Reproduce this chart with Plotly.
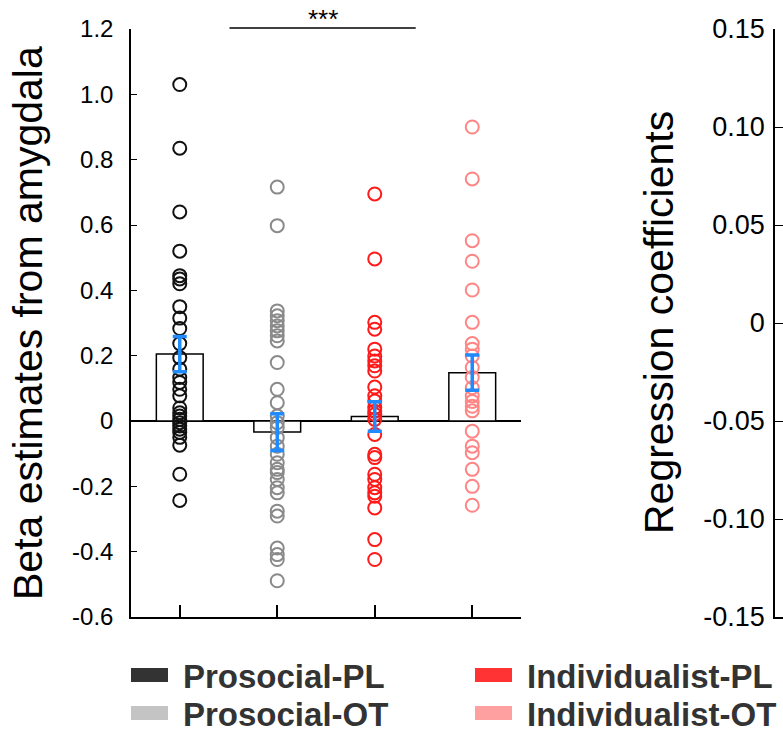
import plotly.graph_objects as go

W, H = 783, 734

groups = ["Prosocial-PL", "Prosocial-OT", "Individualist-PL", "Individualist-OT"]
point_colors = ["#111111", "#8a8a8a", "#ff1a1a", "#ff8585"]
swatch_colors = ["#333333", "#c4c4c4", "#ff3333", "#ffa0a0"]

bar_means = [0.205, -0.034, 0.014, 0.148]
bar_sem = [0.054, 0.056, 0.045, 0.054]

pros_pl = [1.03, 0.835, 0.64, 0.52, 0.445, 0.435, 0.42, 0.35, 0.315, 0.283, 0.237,
           0.194, 0.159, 0.133, 0.118, 0.097, 0.077, 0.04, 0.025, 0.015, 0.005,
           -0.005, -0.015, -0.025, -0.035, -0.05, -0.074, -0.163, -0.243]
pros_ot = [0.716, 0.598, 0.337, 0.322, 0.307, 0.291, 0.276, 0.261, 0.245, 0.179,
           0.097, 0.056, 0.015, -0.005, -0.02, -0.051, -0.077, -0.102, -0.128,
           -0.148, -0.158, -0.179, -0.204, -0.22, -0.276, -0.291, -0.389, -0.409,
           -0.424, -0.489]
ind_pl = [0.695, 0.496, 0.302, 0.281, 0.22, 0.199, 0.184, 0.169, 0.153, 0.104,
          0.077, 0.061, 0.041, 0.03, 0.02, 0.005, -0.041, -0.102, -0.112, -0.163,
          -0.179, -0.204, -0.22, -0.23, -0.266, -0.363, -0.424]
ind_ot = [0.9, 0.741, 0.552, 0.489, 0.401, 0.302, 0.237, 0.22, 0.199, 0.164, 0.133,
          0.102, 0.077, 0.06, 0.045, 0.031, -0.031, -0.077, -0.097, -0.148, -0.2,
          -0.258]
points = [pros_pl, pros_ot, ind_pl, ind_ot]

left_ticks = [-0.6, -0.4, -0.2, 0, 0.2, 0.4, 0.6, 0.8, 1.0, 1.2]
left_ticktext = ["-0.6", "-0.4", "-0.2", "0", "0.2", "0.4", "0.6", "0.8", "1.0", "1.2"]
right_ticks = [-0.15, -0.10, -0.05, 0, 0.05, 0.10, 0.15]
right_ticktext = ["-0.15", "-0.10", "-0.05", "0", "0.05", "0.10", "0.15"]

left_title = "Beta estimates from amygdala"
right_title = "Regression coefficients"
sig_text = "***"
sig_span = [0.51, 2.42]

FONT = "Liberation Sans, Arial, Helvetica, sans-serif"

fig = go.Figure()

xs = list(range(len(groups)))
fig.add_trace(go.Bar(x=xs, y=bar_means, width=0.48,
                     marker=dict(color="white", line=dict(color="black", width=1.5)),
                     showlegend=False, xaxis="x", yaxis="y"))

for i, (vals, col) in enumerate(zip(points, point_colors)):
    fig.add_trace(go.Scatter(x=[i] * len(vals), y=vals, mode="markers",
                             marker=dict(symbol="circle-open", size=13, color=col,
                                         line=dict(width=2, color=col)),
                             showlegend=False, xaxis="x", yaxis="y", cliponaxis=False))

fig.add_trace(go.Scatter(x=xs, y=bar_means, mode="markers",
                         marker=dict(size=1, color="rgba(0,0,0,0)"),
                         error_y=dict(type="data", array=bar_sem, color="#1f8bff",
                                      thickness=3.5, width=7),
                         showlegend=False, xaxis="x", yaxis="y"))

# dummy trace for right axis
fig.add_trace(go.Scatter(x=[0], y=[0], mode="markers", marker=dict(opacity=0),
                         showlegend=False, xaxis="x2", yaxis="y2", hoverinfo="skip"))

ydom = [(H - 617) / H, (H - 29) / H]

fig.update_layout(
    template="none",
    width=W, height=H,
    margin=dict(l=0, r=0, t=0, b=0, pad=0, autoexpand=False),
    paper_bgcolor="white", plot_bgcolor="white",
    font=dict(family=FONT, color="black"),
    showlegend=False,
    xaxis=dict(domain=[131 / W, 521 / W], range=[-0.5, 3.5], tickvals=xs,
               showticklabels=False, ticks="inside", ticklen=12, tickwidth=1.5,
               tickcolor="black", showline=True, linecolor="black", linewidth=1.5,
               showgrid=False, zeroline=False, fixedrange=True, automargin=False),
    yaxis=dict(domain=ydom, range=[-0.6, 1.2], tickvals=left_ticks,
               ticktext=left_ticktext, ticks="inside", ticklen=6, tickwidth=1,
               tickcolor="black", showline=True, linecolor="black", linewidth=1.5,
               showgrid=False, zeroline=True, zerolinecolor="black",
               zerolinewidth=1.5, tickfont=dict(size=24, family=FONT),
               ticklabelstandoff=11, automargin=False),
    xaxis2=dict(domain=[775 / W, 1.0], range=[0, 1], showticklabels=False,
                showline=True, linecolor="black", linewidth=1.5, ticks="",
                showgrid=False, zeroline=False, automargin=False),
    yaxis2=dict(domain=ydom, range=[-0.15, 0.15], tickvals=right_ticks,
                ticktext=right_ticktext, ticks="inside", ticklen=8, tickwidth=1,
                tickcolor="black", showline=True, linecolor="black", linewidth=1.5,
                showgrid=False, zeroline=False, tickfont=dict(size=27, family=FONT),
                ticklabelstandoff=3, anchor="x2", automargin=False),
)

# axis titles
fig.add_annotation(text=left_title, xref="paper", yref="paper", x=28 / W,
                   y=(ydom[0] + ydom[1]) / 2, textangle=-90, showarrow=False,
                   xanchor="center", yanchor="middle",
                   font=dict(size=41, family=FONT, color="black"))
fig.add_annotation(text=right_title, xref="paper", yref="paper", x=659 / W,
                   y=(ydom[0] + ydom[1]) / 2, textangle=-90, showarrow=False,
                   xanchor="center", yanchor="middle",
                   font=dict(size=41, family=FONT, color="black"))

# significance bracket
fig.add_shape(type="line", xref="x", yref="paper", x0=sig_span[0], x1=sig_span[1],
              y0=(H - 28) / H, y1=(H - 28) / H, line=dict(color="black", width=1.5))
fig.add_annotation(text=sig_text, xref="x", yref="paper",
                   x=(sig_span[0] + sig_span[1]) / 2, y=(H - 19) / H,
                   showarrow=False, xanchor="center", yanchor="middle",
                   font=dict(size=26, family=FONT, color="black"))

# manual legend
leg_pos = [(131, 676), (131, 714), (475, 676), (475, 714)]
for (lx, ly), name, col in zip(leg_pos, groups, swatch_colors):
    fig.add_shape(type="rect", xref="paper", yref="paper",
                  x0=lx / W, x1=(lx + 37) / W, y0=(H - ly - 6) / H, y1=(H - ly + 8) / H,
                  fillcolor=col, line=dict(width=0))
    fig.add_annotation(text="<b>" + name + "</b>", xref="paper", yref="paper",
                       x=(lx + 50) / W, y=(H - ly) / H, showarrow=False,
                       xanchor="left", yanchor="middle",
                       font=dict(size=33, family=FONT, color="#333333"))

fig.write_html("out.html")
